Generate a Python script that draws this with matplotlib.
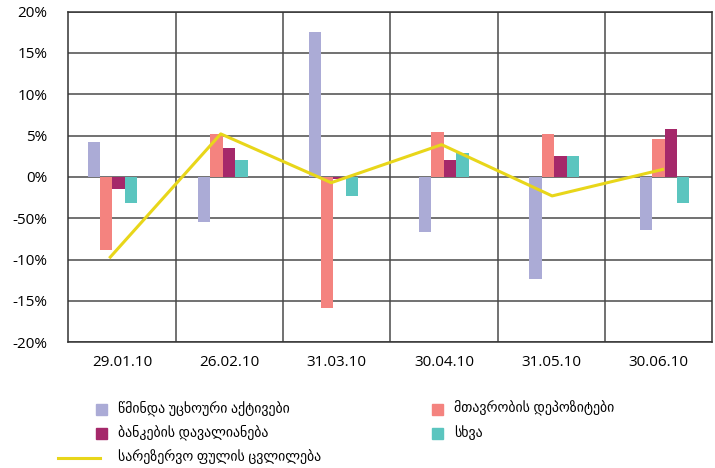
import numpy as np
import matplotlib.pyplot as plt
from matplotlib.patches import Rectangle
from matplotlib.lines import Line2D

plt.rcParams['font.family'] = ['Open Sans', 'DejaVu Sans']

# Data (percent change)
dates = ["29.01.10", "26.02.10", "31.03.10", "30.04.10", "31.05.10", "30.06.10"]
net_foreign_assets = [4.2, -5.4, 17.5, -6.7, -12.3, -6.4]
gov_deposits = [-8.8, 5.2, -15.8, 5.4, 5.2, 4.6]
bank_liabilities = [-1.5, 3.5, -0.2, 2.1, 2.5, 5.8]
other = [-3.1, 2.1, -2.3, 2.9, 2.5, -3.1]
reserve_money = [-9.7, 5.2, -0.7, 3.9, -2.3, 0.9]

y_ticks = [20, 15, 10, 5, 0, -5, -10, -15, -20]
y_tick_labels = ["20%", "15%", "10%", "5%", "0%", "-50%", "-10%", "-15%", "-20%"]

bar_labels = ["წმინდა უცხოური აქტივები", "მთავრობის დეპოზიტები",
              "ბანკების დავალიანება", "სხვა"]
line_label = "სარეზერვო ფულის ცვლილება"
colors = ["#ABABD6", "#F4837F", "#A5286A", "#5BC5BF"]
line_color = "#E8D61A"

W, H = 715, 468
fig = plt.figure(figsize=(W / 100, H / 100), dpi=100)
left, right, top, bottom = 68.3, 712.3, 11.5, 342.3
ax = fig.add_axes([left / W, 1 - bottom / H, (right - left) / W, (bottom - top) / H])

# category grid
ax.set_xlim(0, len(dates))
ax.set_ylim(-20, 20)
ax.set_yticks(y_ticks)
ax.set_yticklabels(y_tick_labels, fontsize=11)
ax.set_xticks(np.arange(len(dates)) + 0.5)
ax.set_xticklabels(dates, fontsize=11)
ax.tick_params(length=0, pad=15, axis='y')
ax.tick_params(length=0, pad=9, axis='x')
for y in y_ticks:
    ax.axhline(y, color="#4a4a4a", lw=1.1, zorder=1)
for x in range(1, len(dates)):
    ax.axvline(x, color="#4a4a4a", lw=1.1, zorder=1)
for s in ax.spines.values():
    s.set_color("#333333")
    s.set_linewidth(1.1)

# bars and line on their own x scale
ax2 = ax.twiny()
ax2.set_xlim(-0.38, 5.45)
ax2.set_xticks([])
for s in ax2.spines.values():
    s.set_visible(False)

x = np.arange(len(dates))
w = 0.112
series = [net_foreign_assets, gov_deposits, bank_liabilities, other]
for k, (vals, c) in enumerate(zip(series, colors)):
    ax2.bar(x - 0.149 + k * w, vals, width=w, color=c, zorder=3)
ax2.plot(x, reserve_money, color=line_color, lw=2.2, zorder=4)

# legend
def fx(px):
    return px / W

def fy(py):
    return 1 - py / H

rows = [409, 433]
cols = [101, 437]
for k, (lab, c) in enumerate(zip(bar_labels, colors)):
    cx, cy = cols[k % 2], rows[k // 2]
    fig.patches.append(Rectangle((fx(cx - 5.5), fy(cy + 5.5)), 11 / W, 11 / H,
                                 transform=fig.transFigure, color=c))
    fig.text(fx(cx + 17), fy(cy), lab, fontsize=10, va='center', ha='left')
fig.lines.append(Line2D([fx(58), fx(100)], [fy(458), fy(458)],
                        transform=fig.transFigure, color=line_color, lw=2.2))
fig.text(fx(118), fy(458), line_label, fontsize=10, va='center', ha='left')

fig.savefig("out.png", dpi=100)
